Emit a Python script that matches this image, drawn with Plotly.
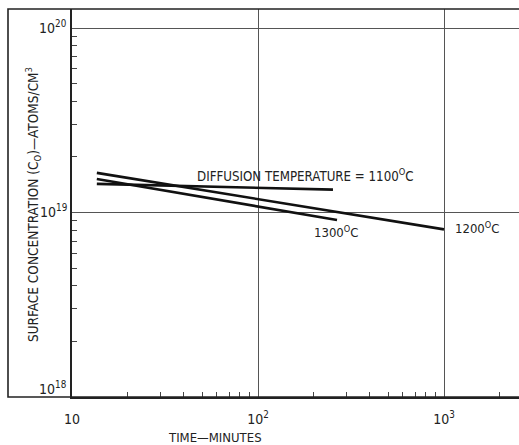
import plotly.graph_objects as go

# --- data ---
time_1100 = [13.6, 253]
conc_1100 = [1.43e19, 1.33e19]
time_1200 = [13.6, 1000]
conc_1200 = [1.64e19, 8.1e18]
time_1300 = [13.6, 266]
conc_1300 = [1.52e19, 9.1e18]

x_major = [10, 100, 1000]
x_major_text = ["10", "10<sup>2</sup>", "10<sup>3</sup>"]
y_major = [1e18, 1e19, 1e20]
y_major_exp = [18, 19, 20]
y_major_text = ["10<sup>18</sup>", "10<sup>19</sup>", "10<sup>20</sup>"]

FONT = "Liberation Sans Narrow, DejaVu Sans Condensed, Arial Narrow, sans-serif"
TXT = "#222222"

fig = go.Figure()
for t, c in [(time_1100, conc_1100), (time_1200, conc_1200), (time_1300, conc_1300)]:
    fig.add_trace(go.Scatter(x=t, y=c, mode="lines",
                             line=dict(color="#111111", width=2.6),
                             showlegend=False, hoverinfo="skip"))

x_minor = [float(k) * 10.0 ** e for e in range(0, 4) for k in range(2, 10)]
y_minor = [float(k) * 10.0 ** e for e in range(18, 20) for k in range(2, 10)]

fig.update_layout(
    width=519, height=445,
    margin=dict(l=72, r=0, t=9, b=48),
    paper_bgcolor="white", plot_bgcolor="white",
    font=dict(family=FONT, color=TXT, size=12),
    xaxis=dict(type="log", range=[1, 1 + 447 / 186],
               tickvals=x_major, ticktext=x_major_text, ticks="",
               showgrid=True, gridcolor="#555555", gridwidth=1.3,
               showline=True, linecolor="#222222", linewidth=1.6,
               zeroline=False, ticklabelstandoff=8,
               tickfont=dict(family=FONT, size=14, color=TXT),
               minor=dict(tickvals=x_minor, ticks="inside", ticklen=5,
                          tickcolor="#444444", tickwidth=1, showgrid=False)),
    yaxis=dict(type="log", range=[18, 18 + 388 / 184.5],
               tickvals=y_major, showticklabels=False, ticks="",
               showgrid=True, gridcolor="#555555", gridwidth=1.3,
               showline=True, linecolor="#222222", linewidth=1.6,
               zeroline=False,
               minor=dict(tickvals=y_minor, ticks="inside", ticklen=5,
                          tickcolor="#444444", tickwidth=1, showgrid=False)),
)

# outer frame
fig.add_shape(type="rect", xref="paper", yref="paper",
              x0=(8 - 72) / 447, x1=1.02, y0=0, y1=1,
              line=dict(color="#222222", width=1.6), layer="above")

# y tick labels (log axis: annotation y in log10 units)
yshifts = [9, 2, 1]
for v, txt, ys in zip(y_major_exp, y_major_text, yshifts):
    fig.add_annotation(x=0, xref="paper", y=v, yref="y", text=txt,
                       showarrow=False, xanchor="right", yanchor="middle",
                       xshift=-3, yshift=ys,
                       font=dict(family=FONT, size=14, color=TXT))

# axis titles
fig.add_annotation(x=(33 - 72) / 447, xref="paper", y=(397 - 205) / 388, yref="paper",
                   text="SURFACE CONCENTRATION (C<sub>O</sub>)\u2014ATOMS/CM<sup>3</sup>",
                   textangle=-90, showarrow=False, xanchor="center", yanchor="middle",
                   font=dict(family=FONT, size=13.5, color=TXT))
fig.add_annotation(x=(215 - 72) / 447, xref="paper", y=(397 - 437) / 388, yref="paper",
                   text="TIME\u2014MINUTES", showarrow=False,
                   xanchor="center", yanchor="middle",
                   font=dict(family=FONT, size=13, color=TXT))

# curve labels
fig.add_annotation(x=1.661, y=19.203, xref="x", yref="y",
                   text="DIFFUSION TEMPERATURE = 1100<sup>O</sup>C",
                   showarrow=False, xanchor="left", yanchor="middle",
                   font=dict(family=FONT, size=13.2, color=TXT))
fig.add_annotation(x=2.290, y=18.894, xref="x", yref="y",
                   text="1300<sup>O</sup>C", showarrow=False,
                   xanchor="left", yanchor="middle",
                   font=dict(family=FONT, size=13, color=TXT))
fig.add_annotation(x=3.048, y=18.916, xref="x", yref="y",
                   text="1200<sup>O</sup>C", showarrow=False,
                   xanchor="left", yanchor="middle",
                   font=dict(family=FONT, size=13, color=TXT))

fig.write_html("out.html")
